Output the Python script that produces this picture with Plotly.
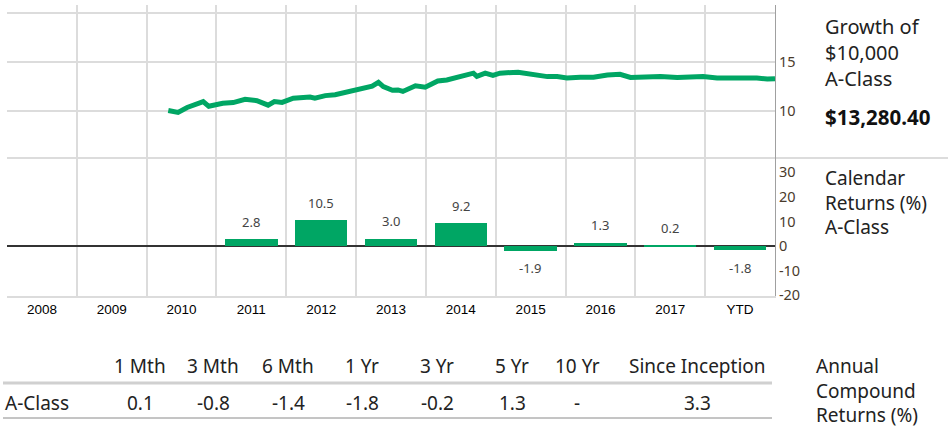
import plotly.graph_objects as go

# ---------------- data ----------------
year_labels = ["2008", "2009", "2010", "2011", "2012", "2013", "2014", "2015", "2016", "2017", "YTD"]
year_starts = [2008, 2009, 2010, 2011, 2012, 2013, 2014, 2015, 2016, 2017, 2018]
calendar_returns = [None, None, None, 2.8, 10.5, 3.0, 9.2, -1.9, 1.3, 0.2, -1.8]
calendar_text = ["", "", "", "2.8", "10.5", "3.0", "9.2", "-1.9", "1.3", "0.2", "-1.8"]
return_ticks = [-20, -10, 0, 10, 20, 30]
return_tick_text = ["-20", "-10", "0", "10", "20", "30"]
growth_ticks = [10, 15, 20]
growth_tick_text = ["10", "15", ""]

growth_t = [2010.31, 2010.45, 2010.58, 2010.81, 2010.89, 2011.09, 2011.24, 2011.41, 2011.58,
            2011.74, 2011.83, 2011.94, 2012.10, 2012.23, 2012.34, 2012.41, 2012.56, 2012.70,
            2012.87, 2012.94, 2013.09, 2013.23, 2013.32, 2013.39, 2013.52, 2013.60, 2013.67,
            2013.85, 2013.99, 2014.17, 2014.30, 2014.42, 2014.53, 2014.68, 2014.73, 2014.85,
            2014.96, 2015.06, 2015.32, 2015.49, 2015.74, 2015.88, 2016.02, 2016.21, 2016.40,
            2016.60, 2016.78, 2016.93, 2017.36, 2017.60, 2017.97, 2018.17, 2018.54, 2018.74,
            2018.89, 2019.00]
growth_v = [10.05, 9.85, 10.35, 10.95, 10.47, 10.78, 10.85, 11.19, 11.04,
            10.59, 10.95, 10.87, 11.30, 11.42, 11.42, 11.30, 11.56, 11.65,
            11.94, 11.94, 12.28, 12.53, 12.91, 12.48, 12.10, 12.14, 11.99,
            12.56, 12.42, 13.05, 13.16, 13.42, 13.62, 13.85, 13.52, 13.85,
            13.62, 13.85, 13.95, 13.74, 13.50, 13.50, 13.36, 13.44, 13.44,
            13.67, 13.74, 13.42, 13.50, 13.40, 13.50, 13.36, 13.44, 13.36,
            13.25, 13.28]

periods = ["1 Mth", "3 Mth", "6 Mth", "1 Yr", "3 Yr", "5 Yr", "10 Yr", "Since Inception"]
annual_returns = ["0.1", "-0.8", "-1.4", "-1.8", "-0.2", "1.3", "-", "3.3"]
row_label = "A-Class"
final_value = "$13,280.40"
growth_title = ["Growth of", "$10,000", "A-Class"]
calendar_title = ["Calendar", "Returns (%)", "A-Class"]
annual_title = ["Annual", "Compound", "Returns (%)"]

# ---------------- layout helpers ----------------
W, H = 948, 429
L, R, T, B = 7, 173, 5, 133
PW, PH = W - L - R, H - T - B
def px(x):
    return (x - L) / PW
def py(y):
    return (H - B - y) / PH

GREEN = "#00a664"
GRID = "#dcdcdc"
FONT = "Noto Sans"
TXT = "#222222"
TICKC = "#4a3b2c"

split = py(158)
centers = [s + 0.5 for s in year_starts]

fig = go.Figure()

fig.add_trace(go.Scatter(x=growth_t, y=growth_v, mode="lines",
                         line=dict(color=GREEN, width=5), xaxis="x2", yaxis="y2",
                         hoverinfo="skip", showlegend=False))

fig.add_trace(go.Bar(x=centers, y=calendar_returns, width=0.75, marker_color=GREEN,
                     marker_line_width=0, xaxis="x", yaxis="y", showlegend=False,
                     hoverinfo="skip"))

annotations = []
for c, v, t in zip(centers, calendar_returns, calendar_text):
    if v is None:
        continue
    annotations.append(dict(x=c, y=v, xref="x", yref="y", text=t, showarrow=False,
                            yshift=17.5 if v >= 0 else -17.5, yanchor="middle",
                            font=dict(family=FONT, size=13, color="#444444")))

# right side labels (multi-line blocks)
for lines, xpix, ypix, size in [(growth_title, 823, 53, 20),
                                (calendar_title, 823, 202, 19),
                                (annual_title, 814, 390, 19)]:
    annotations.append(dict(x=px(xpix), y=py(ypix), xref="paper", yref="paper",
                            text="<br>".join(lines), showarrow=False, align="left",
                            xanchor="left", yanchor="middle",
                            font=dict(family=FONT, size=size, color=TXT)))
annotations.append(dict(x=px(823), y=py(117), xref="paper", yref="paper",
                        text=f"<b>{final_value}</b>", showarrow=False,
                        xanchor="left", yanchor="middle",
                        font=dict(family=FONT, size=20.5, color="#111111")))

# table
col_x = [140, 213, 288, 362, 437, 512, 577, 697]
for cx, p, v in zip(col_x, periods, annual_returns):
    annotations.append(dict(x=px(cx), y=py(366), xref="paper", yref="paper", text=p,
                            showarrow=False, xanchor="center", yanchor="middle",
                            font=dict(family=FONT, size=19, color=TXT)))
    annotations.append(dict(x=px(cx), y=py(403), xref="paper", yref="paper", text=v,
                            showarrow=False, xanchor="center", yanchor="middle",
                            font=dict(family=FONT, size=19, color=TXT)))
annotations.append(dict(x=px(3), y=py(403), xref="paper", yref="paper", text=row_label,
                        showarrow=False, xanchor="left", yanchor="middle",
                        font=dict(family=FONT, size=19, color=TXT)))

shapes = [
    dict(type="line", xref="paper", yref="paper", x0=0, x1=px(W), y0=split, y1=split,
         line=dict(color=GRID, width=2), layer="below"),
    dict(type="line", xref="paper", yref="paper", x0=px(3), x1=px(772), y0=py(383), y1=py(383),
         line=dict(color="#d0d0d0", width=3)),
    dict(type="line", xref="paper", yref="paper", x0=px(3), x1=px(772), y0=py(418), y1=py(418),
         line=dict(color="#8a8a8a", width=1)),
]

minor_grid = dict(tickvals=year_starts, showgrid=True, gridcolor=GRID, gridwidth=2, ticks="")

fig.update_layout(
    width=W, height=H, margin=dict(l=L, r=R, t=T, b=B),
    paper_bgcolor="white", plot_bgcolor="white",
    bargap=0, showlegend=False,
    annotations=annotations, shapes=shapes,
    xaxis=dict(domain=[0, 1], range=[2008, 2019], tickmode="array", tickvals=centers,
               ticktext=year_labels, showgrid=False, ticks="", zeroline=False,
               showline=True, linecolor=GRID, linewidth=2,
               tickfont=dict(family="Liberation Sans", size=13.5, color="#000000"),
               minor=minor_grid, anchor="y"),
    yaxis=dict(domain=[0, split], range=[-20.3, 35.8], side="right",
               tickmode="array", tickvals=return_ticks, ticktext=return_tick_text,
               showgrid=False,
               zeroline=True, zerolinecolor="#333333", zerolinewidth=1.5,
               showline=True, linecolor="#a0a0a0", linewidth=1, ticks="",
               tickfont=dict(family=FONT, size=14.5, color=TICKC), anchor="x"),
    xaxis2=dict(domain=[0, 1], range=[2008, 2019], showticklabels=False, showgrid=False,
                ticks="", zeroline=False, showline=False, minor=minor_grid,
                tickmode="array", tickvals=centers, anchor="y2"),
    yaxis2=dict(domain=[split, 1], range=[5.2, 20.8], side="right",
                tickmode="array", tickvals=growth_ticks, ticktext=growth_tick_text,
                showgrid=True, gridcolor=GRID, gridwidth=2, zeroline=False,
                showline=True, linecolor="#a0a0a0", linewidth=1, ticks="",
                tickfont=dict(family=FONT, size=14.5, color=TICKC), anchor="x2"),
)

fig.write_html("out.html", config={"displayModeBar": False},
               post_script="document.body.style.margin='0px';document.body.style.overflow='hidden';")
